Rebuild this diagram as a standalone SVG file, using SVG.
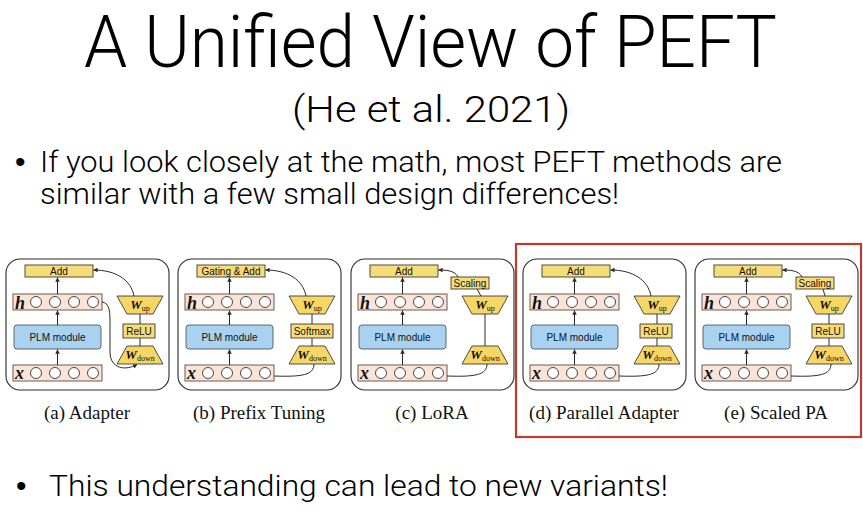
<svg xmlns="http://www.w3.org/2000/svg" xmlns:xlink="http://www.w3.org/1999/xlink" width="863" height="521" viewBox="0 0 863 521">
<style>
.t{font-family:Roboto,"Liberation Sans",Arial,sans-serif;font-weight:300;fill:#000}
.b{font-family:"Liberation Sans",Arial,sans-serif;font-size:30px;fill:#000}
.frame{fill:#fff;stroke:#2b2b2b;stroke-width:1.1}
.ybox{fill:#f8dc78;stroke:#3a3a3a;stroke-width:0.9}
.trap{fill:#f6d766;stroke:#3a3a3a;stroke-width:0.9}
.plm{fill:#a9d1f0;stroke:#4a5a6a;stroke-width:0.9}
.row{fill:#fbe4d6;stroke:#5a4a40;stroke-width:0.9}
.dot{fill:#fff;stroke:#333;stroke-width:0.9}
.lbl{font-family:"Liberation Sans",Arial,sans-serif;font-size:10px;text-anchor:middle;fill:#111}
.var{font-family:"Liberation Serif","Times New Roman",serif;font-weight:bold;font-style:italic;font-size:18px;fill:#111}
.w{font-family:"Liberation Serif","Times New Roman",serif;font-weight:bold;font-style:italic;font-size:13px;text-anchor:middle;fill:#111}
.sub{font-size:8px;font-weight:normal;font-style:normal}
.cap{font-family:"Liberation Serif","Times New Roman",serif;font-size:19px;text-anchor:middle;fill:#111}
.c{fill:none;stroke:#2b2b2b;stroke-width:1}
.ca{fill:none;stroke:#2b2b2b;stroke-width:1;marker-end:url(#ah)}
</style>
<defs>
<marker id="ah" viewBox="0 0 6 6" refX="5.5" refY="3" markerWidth="4.5" markerHeight="4.5" orient="auto" markerUnits="userSpaceOnUse"><path d="M0,0 L6,3 L0,6 z" fill="#2b2b2b"/></marker>
<g id="dots"><circle class="dot" cx="30" cy="0" r="5.5"/><circle class="dot" cx="49" cy="0" r="5.5"/><circle class="dot" cx="68" cy="0" r="5.5"/><circle class="dot" cx="87" cy="0" r="5.5"/></g>
</defs>
<rect width="863" height="521" fill="#fff"/>

<g id="title">
<text class="t" x="84" y="67" font-size="73" textLength="693" lengthAdjust="spacingAndGlyphs">A Unified View of PEFT</text>
<text class="t" x="292" y="122" font-size="36" textLength="278" lengthAdjust="spacingAndGlyphs">(He et al. 2021)</text>
<text class="b" x="15" y="172">•</text>
<text class="t" x="40" y="172" font-size="30" textLength="742" lengthAdjust="spacingAndGlyphs">If you look closely at the math, most PEFT methods are</text>
<text class="t" x="40" y="204" font-size="30" textLength="579" lengthAdjust="spacingAndGlyphs">similar with a few small design differences!</text>
<text class="b" x="16" y="496">•</text>
<text class="t" x="49" y="496" font-size="30" textLength="619" lengthAdjust="spacingAndGlyphs">This understanding can lead to new variants!</text>
</g>

<g id="highlight"><rect x="516" y="244" width="345" height="193" fill="none" stroke="#c23a2d" stroke-width="2.2"/></g>

<!-- (a) Adapter -->
<g id="panel-a" transform="translate(6,0)">
<g id="a-frame"><rect class="frame" x="0" y="259" width="163" height="131" rx="14"/></g>
<g id="a-add"><rect class="ybox" x="19" y="265" width="68" height="12"/><text class="lbl" x="53" y="274.5">Add</text></g>
<g id="a-h"><rect class="row" x="7" y="294" width="89" height="16"/><text class="var" x="9" y="308.5">h</text><use xlink:href="#dots" href="#dots" y="302"/></g>
<g id="a-plm"><rect class="plm" x="8" y="325" width="87" height="24" rx="3"/><text class="lbl" x="51.5" y="340.5">PLM module</text></g>
<g id="a-x"><rect class="row" x="7" y="365" width="89" height="16"/><text class="var" x="9" y="378.5">x</text><use xlink:href="#dots" href="#dots" y="373"/></g>
<g id="a-wup"><polygon class="trap" points="111,296 157,296 147,314 121,314"/><text class="w" x="134" y="308.5">W<tspan class="sub" dy="2">up</tspan></text></g>
<g id="a-relu"><rect class="ybox" x="117" y="324" width="32" height="14"/><text class="lbl" x="133" y="334.5">ReLU</text></g>
<g id="a-wdown"><polygon class="trap" points="121,346 147,346 157,364 111,364"/><text class="w" x="134" y="359">W<tspan class="sub" dy="2">down</tspan></text></g>
<text class="cap" x="81" y="419">(a) Adapter</text>
</g>

<!-- (b) Prefix Tuning -->
<g id="panel-b" transform="translate(178,0)">
<g id="b-frame"><rect class="frame" x="0" y="259" width="163" height="131" rx="14"/></g>
<g id="b-add"><rect class="ybox" x="19" y="265" width="68" height="12"/><text class="lbl" x="53" y="274.5">Gating &amp; Add</text></g>
<g id="b-h"><rect class="row" x="7" y="294" width="89" height="16"/><text class="var" x="9" y="308.5">h</text><use xlink:href="#dots" href="#dots" y="302"/></g>
<g id="b-plm"><rect class="plm" x="8" y="325" width="87" height="24" rx="3"/><text class="lbl" x="51.5" y="340.5">PLM module</text></g>
<g id="b-x"><rect class="row" x="7" y="365" width="89" height="16"/><text class="var" x="9" y="378.5">x</text><use xlink:href="#dots" href="#dots" y="373"/></g>
<g id="b-wup"><polygon class="trap" points="111,296 157,296 147,314 121,314"/><text class="w" x="134" y="308.5">W<tspan class="sub" dy="2">up</tspan></text></g>
<g id="b-softmax"><rect class="ybox" x="113" y="324" width="42" height="14"/><text class="lbl" x="134" y="334.5">Softmax</text></g>
<g id="b-wdown"><polygon class="trap" points="121,346 147,346 157,364 111,364"/><text class="w" x="134" y="359">W<tspan class="sub" dy="2">down</tspan></text></g>
<text class="cap" x="81" y="419">(b) Prefix Tuning</text>
</g>

<!-- (c) LoRA -->
<g id="panel-c" transform="translate(351,0)">
<g id="c-frame"><rect class="frame" x="0" y="259" width="163" height="131" rx="14"/></g>
<g id="c-add"><rect class="ybox" x="19" y="265" width="68" height="12"/><text class="lbl" x="53" y="274.5">Add</text></g>
<g id="c-scaling"><rect class="ybox" x="100" y="277" width="38" height="12"/><text class="lbl" x="119" y="286.5">Scaling</text></g>
<g id="c-h"><rect class="row" x="7" y="294" width="89" height="16"/><text class="var" x="9" y="308.5">h</text><use xlink:href="#dots" href="#dots" y="302"/></g>
<g id="c-plm"><rect class="plm" x="8" y="325" width="87" height="24" rx="3"/><text class="lbl" x="51.5" y="340.5">PLM module</text></g>
<g id="c-x"><rect class="row" x="7" y="365" width="89" height="16"/><text class="var" x="9" y="378.5">x</text><use xlink:href="#dots" href="#dots" y="373"/></g>
<g id="c-wup"><polygon class="trap" points="111,296 157,296 147,314 121,314"/><text class="w" x="134" y="308.5">W<tspan class="sub" dy="2">up</tspan></text></g>
<g id="c-wdown"><polygon class="trap" points="121,346 147,346 157,364 111,364"/><text class="w" x="134" y="359">W<tspan class="sub" dy="2">down</tspan></text></g>
<text class="cap" x="81" y="419">(c) LoRA</text>
</g>

<!-- (d) Parallel Adapter -->
<g id="panel-d" transform="translate(523,0)">
<g id="d-frame"><rect class="frame" x="0" y="259" width="163" height="131" rx="14"/></g>
<g id="d-add"><rect class="ybox" x="19" y="265" width="68" height="12"/><text class="lbl" x="53" y="274.5">Add</text></g>
<g id="d-h"><rect class="row" x="7" y="294" width="89" height="16"/><text class="var" x="9" y="308.5">h</text><use xlink:href="#dots" href="#dots" y="302"/></g>
<g id="d-plm"><rect class="plm" x="8" y="325" width="87" height="24" rx="3"/><text class="lbl" x="51.5" y="340.5">PLM module</text></g>
<g id="d-x"><rect class="row" x="7" y="365" width="89" height="16"/><text class="var" x="9" y="378.5">x</text><use xlink:href="#dots" href="#dots" y="373"/></g>
<g id="d-wup"><polygon class="trap" points="111,296 157,296 147,314 121,314"/><text class="w" x="134" y="308.5">W<tspan class="sub" dy="2">up</tspan></text></g>
<g id="d-relu"><rect class="ybox" x="117" y="324" width="32" height="14"/><text class="lbl" x="133" y="334.5">ReLU</text></g>
<g id="d-wdown"><polygon class="trap" points="121,346 147,346 157,364 111,364"/><text class="w" x="134" y="359">W<tspan class="sub" dy="2">down</tspan></text></g>
<text class="cap" x="81" y="419">(d) Parallel Adapter</text>
</g>

<!-- (e) Scaled PA -->
<g id="panel-e" transform="translate(695,0)">
<g id="e-frame"><rect class="frame" x="0" y="259" width="163" height="131" rx="14"/></g>
<g id="e-add"><rect class="ybox" x="19" y="265" width="68" height="12"/><text class="lbl" x="53" y="274.5">Add</text></g>
<g id="e-scaling"><rect class="ybox" x="101" y="277" width="38" height="12"/><text class="lbl" x="120" y="286.5">Scaling</text></g>
<g id="e-h"><rect class="row" x="7" y="294" width="89" height="16"/><text class="var" x="9" y="308.5">h</text><use xlink:href="#dots" href="#dots" y="302"/></g>
<g id="e-plm"><rect class="plm" x="8" y="325" width="87" height="24" rx="3"/><text class="lbl" x="51.5" y="340.5">PLM module</text></g>
<g id="e-x"><rect class="row" x="7" y="365" width="89" height="16"/><text class="var" x="9" y="378.5">x</text><use xlink:href="#dots" href="#dots" y="373"/></g>
<g id="e-wup"><polygon class="trap" points="111,296 157,296 147,314 121,314"/><text class="w" x="134" y="308.5">W<tspan class="sub" dy="2">up</tspan></text></g>
<g id="e-relu"><rect class="ybox" x="117" y="324" width="32" height="14"/><text class="lbl" x="133" y="334.5">ReLU</text></g>
<g id="e-wdown"><polygon class="trap" points="121,346 147,346 157,364 111,364"/><text class="w" x="134" y="359">W<tspan class="sub" dy="2">down</tspan></text></g>
<text class="cap" x="81" y="419">(e) Scaled PA</text>
</g>

<g id="connectors">
<g id="conn-a" transform="translate(6,0)">
<path class="ca" d="M51.5,365 L51.5,349.5"/><path class="ca" d="M51.5,325 L51.5,310.5"/><path class="ca" d="M51.5,294 L51.5,277.5"/>
<path class="c" d="M134,314 L134,324 M134,338 L134,346"/>
<path class="ca" d="M128,296 C125,280 110,270 87.5,270"/>
<path class="ca" d="M96,302 C104,303 104,312 104,325 L104,352 C104,369 120,371 131,364.5"/>
</g>
<g id="conn-b" transform="translate(178,0)">
<path class="ca" d="M51.5,365 L51.5,349.5"/><path class="ca" d="M51.5,325 L51.5,310.5"/><path class="ca" d="M51.5,294 L51.5,277.5"/>
<path class="c" d="M134,314 L134,324 M134,338 L134,346"/>
<path class="ca" d="M128,296 C125,280 110,270 87.5,270"/>
<path class="c" d="M96,376 C124,377 136,375 136,364"/>
</g>
<g id="conn-c" transform="translate(351,0)">
<path class="ca" d="M51.5,365 L51.5,349.5"/><path class="ca" d="M51.5,325 L51.5,310.5"/><path class="ca" d="M51.5,294 L51.5,277.5"/>
<path class="c" d="M134,314 L134,346"/>
<path class="c" d="M130,296 L126,289"/>
<path class="ca" d="M107,277 C104,271 97,270 87.5,270"/>
<path class="c" d="M96,376 C124,377 136,375 136,364"/>
</g>
<g id="conn-d" transform="translate(523,0)">
<path class="ca" d="M51.5,365 L51.5,349.5"/><path class="ca" d="M51.5,325 L51.5,310.5"/><path class="ca" d="M51.5,294 L51.5,277.5"/>
<path class="c" d="M134,314 L134,324 M134,338 L134,346"/>
<path class="ca" d="M128,296 C125,280 110,270 87.5,270"/>
<path class="c" d="M96,376 C124,377 136,375 136,364"/>
</g>
<g id="conn-e" transform="translate(695,0)">
<path class="ca" d="M51.5,365 L51.5,349.5"/><path class="ca" d="M51.5,325 L51.5,310.5"/><path class="ca" d="M51.5,294 L51.5,277.5"/>
<path class="c" d="M134,314 L134,324 M134,338 L134,346"/>
<path class="c" d="M130,296 L128,289"/>
<path class="ca" d="M107,277 C104,271 97,270 87.5,270"/>
<path class="c" d="M96,376 C124,377 136,375 136,364"/>
</g>
</g>
</svg>
